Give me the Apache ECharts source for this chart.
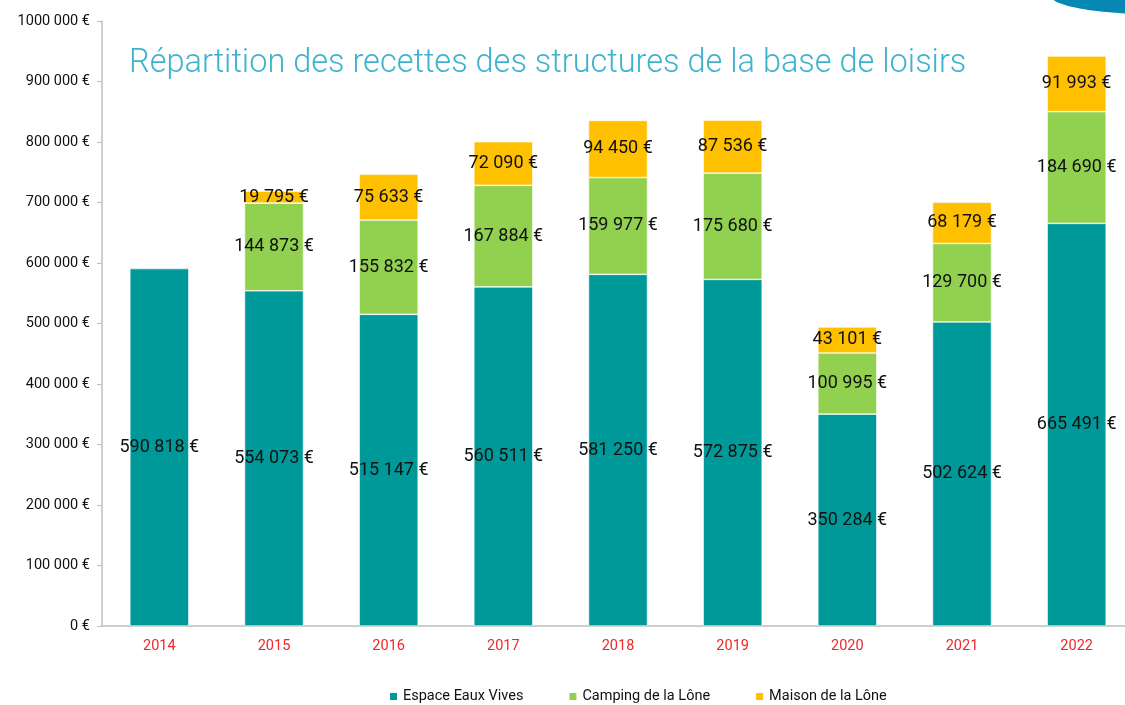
<!DOCTYPE html>
<html><head><meta charset="utf-8">
<script src="https://cdn.jsdelivr.net/npm/echarts@6/dist/echarts.min.js"></script>
<style>html,body{margin:0;padding:0;background:#fff}#c{width:1125px;height:705px}</style>
</head><body><div id="c"></div>
<script>
const years = ['2014','2015','2016','2017','2018','2019','2020','2021','2022'];
const espaceEauxVives = [590818, 554073, 515147, 560511, 581250, 572875, 350284, 502624, 665491];
const campingLone = [null, 144873, 155832, 167884, 159977, 175680, 100995, 129700, 184690];
const maisonLone = [null, 19795, 75633, 72090, 94450, 87536, 43101, 68179, 91993];
const yTickLabels = ['0 €','100 000 €','200 000 €','300 000 €','400 000 €','500 000 €','600 000 €','700 000 €','800 000 €','900 000 €','1000 000 €'];

const fmt = v => String(v).replace(/\B(?=(\d{3})+(?!\d))/g, ' ') + ' €';
const font = 'Roboto, "Noto Sans", sans-serif';
const label = {show:true, position:'inside', color:'#111', fontSize:18, fontFamily:font,
  formatter: p => p.value == null ? '' : fmt(p.value)};
function mk(name, data, color){
  return {name, type:'bar', stack:'t', data, barWidth:59,
    itemStyle:{color, borderColor:'#fff', borderWidth:0.6},
    label, emphasis:{disabled:true}};
}
const chart = echarts.init(document.getElementById('c'));
chart.setOption({
  animation:false,
  title:{text:'Répartition des recettes des structures de la base de loisirs', left:124, top:42,
    textStyle:{color:'#3FB3CE', fontSize:32.5, fontWeight:300, fontFamily:font}},
  grid:{left:102, top:21, bottom:79, width:1032, outerBoundsMode:'none', containLabel:false},
  legend:{left:383, top:684, itemWidth:9, itemHeight:9, itemGap:44, icon:'rect',
    textStyle:{fontSize:14.5, color:'#111', fontFamily:font},
    data:['Espace Eaux Vives','Camping de la Lône','Maison de la Lône']},
  xAxis:{type:'category', data:years,
    axisLine:{lineStyle:{color:'#BFBFBF', width:1.5}}, axisTick:{show:false},
    axisLabel:{color:'#F02828', fontSize:14.5, margin:13, fontFamily:font}},
  yAxis:{type:'value', min:0, max:1000000, interval:100000,
    axisLine:{show:true, lineStyle:{color:'#BFBFBF', width:1.5}},
    axisTick:{show:true, length:5, lineStyle:{color:'#BFBFBF'}},
    splitLine:{show:false},
    axisLabel:{color:'#111', fontSize:14.5, margin:12, fontFamily:font,
      formatter: v => yTickLabels[Math.round(v/100000)]}},
  graphic:[{type:'ellipse', shape:{cx:1150, cy:-5, rx:100, ry:19}, style:{fill:'#0787B3'}, z:10}],
  series:[
    mk('Espace Eaux Vives', espaceEauxVives, '#009999'),
    mk('Camping de la Lône', campingLone, '#92D050'),
    mk('Maison de la Lône', maisonLone, '#FFC000')
  ]
});
</script></body></html>
